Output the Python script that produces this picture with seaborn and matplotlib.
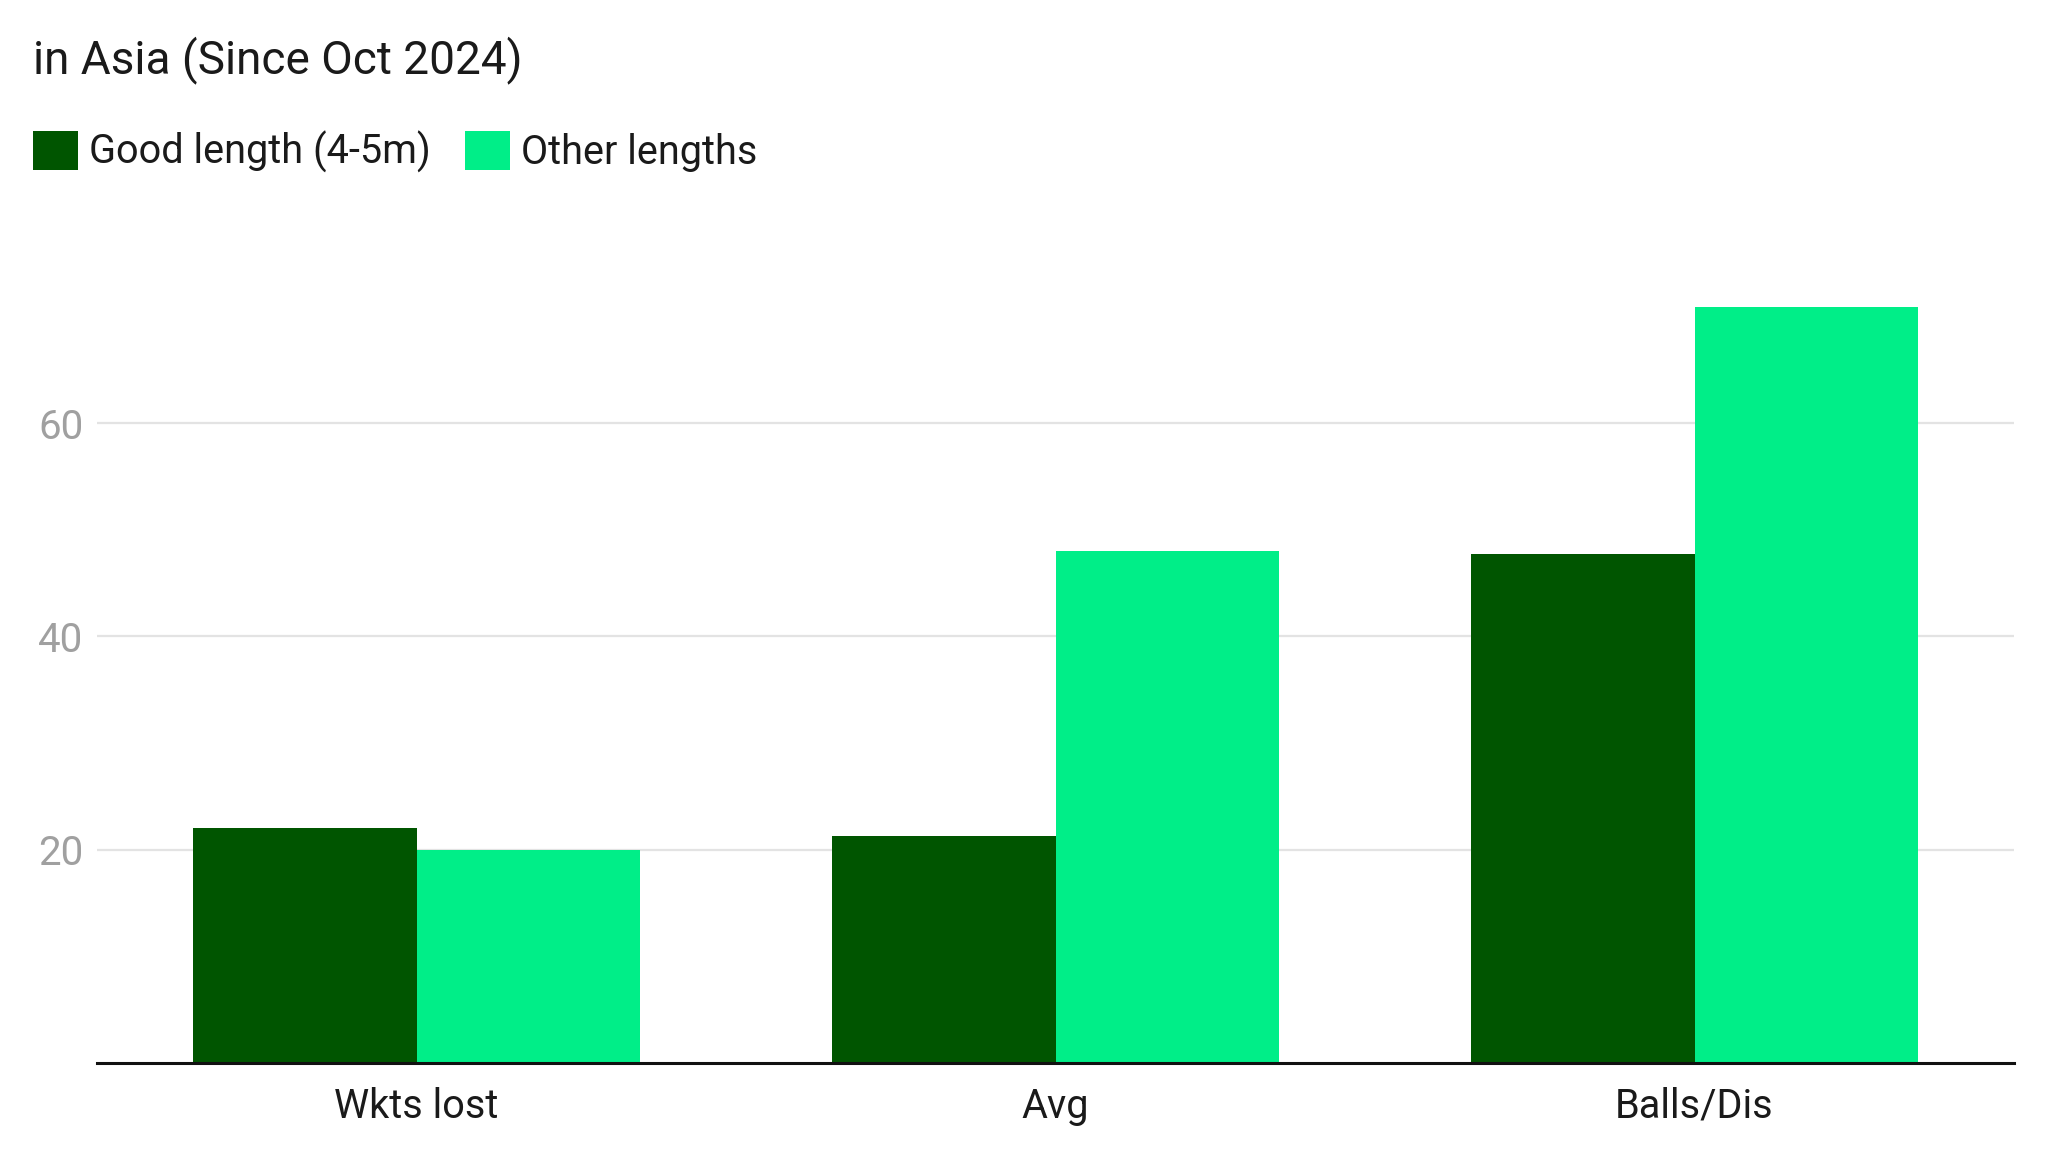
import matplotlib
matplotlib.use("Agg")
import matplotlib.pyplot as plt
import seaborn as sns
import pandas as pd

categories = ["Wkts lost", "Avg", "Balls/Dis"]
series_names = ["Good length (4-5m)", "Other lengths"]
good_length = [22.0, 21.3, 47.7]
other_lengths = [20.0, 48.0, 70.9]
y_ticks = [20, 40, 60]
title = "in Asia (Since Oct 2024)"

colors = ["#005500", "#00ee88"]

df = pd.DataFrame({
    "metric": categories * 2,
    "value": good_length + other_lengths,
    "series": [series_names[0]] * 3 + [series_names[1]] * 3,
})

sns.set_theme(style="white")
plt.rcParams["font.family"] = ["Roboto", "DejaVu Sans"]

fig = plt.figure(figsize=(20.48, 11.52), dpi=100)
ax = fig.add_axes([0.0474, 0.0773, 0.936, 0.7404])

sns.barplot(data=df, x="metric", y="value", hue="series", order=categories,
            hue_order=series_names, palette=colors, saturation=1,
            width=0.7, gap=0, linewidth=0, ax=ax)

ax.set_xlim(-0.5, 2.5)
ax.set_ylim(0, 80)
ax.set_yticks(y_ticks)
ax.set_xlabel("")
ax.set_ylabel("")
for s in ["top", "right", "left"]:
    ax.spines[s].set_visible(False)
ax.spines["bottom"].set_color("#111111")
ax.spines["bottom"].set_linewidth(2.2)
ax.spines["bottom"].set_zorder(5)
ax.yaxis.grid(True, color="#e3e3e3", linewidth=1.6)
ax.set_axisbelow(True)
ax.tick_params(axis="y", length=0, pad=10, labelsize=29, labelcolor="#a0a0a0")
ax.tick_params(axis="x", length=0, pad=17, labelsize=28.5, labelcolor="#1a1a1a")

leg = ax.get_legend()
handles = leg.legend_handles
leg.remove()
fig.legend(handles, series_names, loc="center left", bbox_to_anchor=(0.016, 0.868),
           ncol=2, frameon=False, fontsize=28.5, borderaxespad=0, borderpad=0,
           handlelength=1.15, handleheight=1.15, handletextpad=0.27,
           columnspacing=0.86, labelcolor="#1a1a1a")

fig.text(0.016, 0.948, title, fontsize=33, color="#1a1a1a", ha="left", va="center")

fig.savefig("out.png", dpi=100, facecolor="white")
